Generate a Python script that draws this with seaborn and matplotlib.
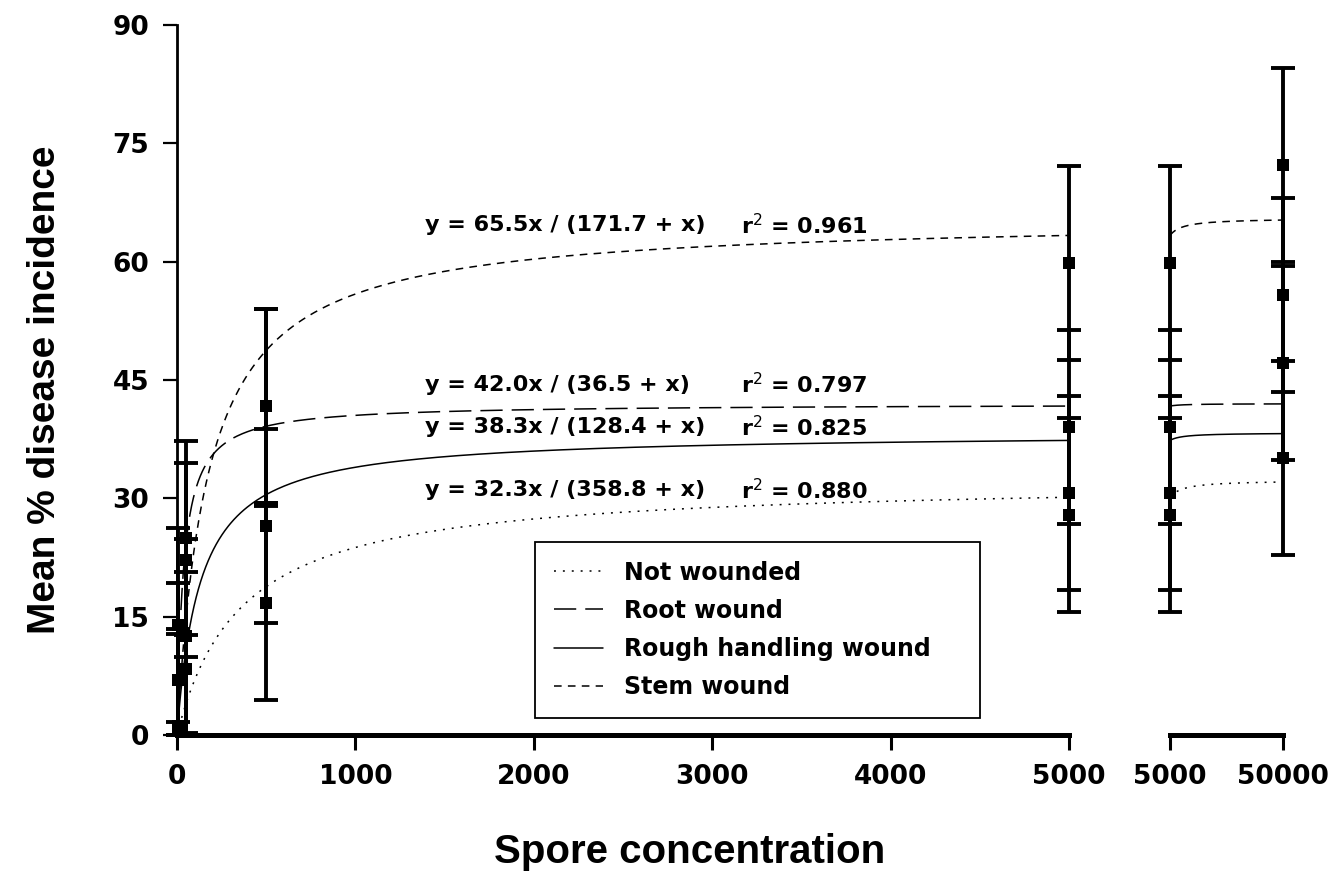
import numpy as np
import pandas as pd
import matplotlib
matplotlib.use("Agg")
import matplotlib.pyplot as plt
import seaborn as sns

# ---- data -------------------------------------------------------------
conc = [5, 50, 500, 5000, 50000]
not_wounded = [0.5, 8.4, 16.7, 27.9, 35.1]
root_wound = [13.9, 25.0, 41.7, 39.0, 55.8]
rough_wound = [1.2, 12.5, 26.5, 30.7, 47.1]
stem_wound = [7.0, 22.2, 41.7, 59.8, 72.2]
pooled_se = 12.3

treatments = ["Not wounded", "Root wound", "Rough handling wound", "Stem wound"]
series = [not_wounded, root_wound, rough_wound, stem_wound]
# fitted hyperbola y = a x / (b + x) and r^2 for each treatment
fit_a = [32.3, 42.0, 38.3, 65.5]
fit_b = [358.8, 36.5, 128.4, 171.7]
fit_r2 = ["0.880", "0.797", "0.825", "0.961"]

y_ticks = [0, 15, 30, 45, 60, 75, 90]
x_ticks_left = [0, 1000, 2000, 3000, 4000, 5000]
x_ticks_right = [5000, 50000]

# ---- style ------------------------------------------------------------
sns.set_style("ticks")
plt.rcParams["font.family"] = ["Liberation Sans", "DejaVu Sans"]
plt.rcParams["lines.scale_dashes"] = False
for key in ("text.color", "axes.labelcolor", "xtick.color", "ytick.color",
            "axes.edgecolor"):
    plt.rcParams[key] = "black"

line_styles = {
    "Not wounded": (0, (1.4, 5.0)),
    "Root wound": (0, (16, 6.5)),
    "Rough handling wound": "-",
    "Stem wound": (0, (5.5, 4.5)),
}

W, H = 1332, 896
fig = plt.figure(figsize=(W / 100, H / 100), dpi=100)
bot = (H - 735) / H
hgt = 710 / H
ax1 = fig.add_axes([177 / W, bot, 892 / W, hgt])
ax2 = fig.add_axes([1170 / W, bot, 113 / W, hgt])
ax2.set_facecolor("none")

x_left = np.unique(np.concatenate([np.linspace(0, 300, 600), np.linspace(300, 5000, 500)]))
x_right = np.linspace(5000, 50000, 600)

for name, a, b in zip(treatments, fit_a, fit_b):
    for ax, xs in ((ax1, x_left), (ax2, x_right)):
        df = pd.DataFrame({"x": xs, "y": a * xs / (b + xs)})
        sns.lineplot(data=df, x="x", y="y", ax=ax, color="black", lw=1.1,
                     linestyle=line_styles[name],
                     label=name if ax is ax1 else None, legend=False)

# points with error bars (lower bars stop at zero)
for vals in series:
    for ax, keep in ((ax1, lambda c: c <= 5000), (ax2, lambda c: c >= 5000)):
        cs = [c for c in conc if keep(c)]
        vs = [v for c, v in zip(conc, vals) if keep(c)]
        lower = [min(pooled_se, v) for v in vs]
        upper = [pooled_se for _ in vs]
        eb = ax.errorbar(cs, vs, yerr=[lower, upper], fmt="none", ecolor="black",
                         elinewidth=2.8, capsize=8.6, capthick=2.8, zorder=3)
        for art in eb.lines[1] + eb.lines[2]:
            art.set_clip_on(False)
        sns.scatterplot(x=cs, y=vs, ax=ax, marker="s", s=80, color="black",
                        edgecolor="black", linewidth=0, zorder=4, clip_on=False)

# ---- axes ---------------------------------------------------------------
tick_font = dict(family="DejaVu Sans", weight="bold", size=19)

ax1.set_xlim(0, 5000)
ax1.set_ylim(0, 90)
ax1.set_yticks(y_ticks)
ax1.set_xticks(x_ticks_left)
ax1.set_yticklabels([str(t) for t in y_ticks], fontdict=tick_font)
ax1.set_xticklabels([str(t) for t in x_ticks_left], fontdict=tick_font)
for s in ("top", "right"):
    ax1.spines[s].set_visible(False)
ax1.spines["left"].set_linewidth(2.0)
ax1.spines["bottom"].set_linewidth(3.6)
ax1.tick_params(axis="y", length=10, width=1.6, pad=10, color="black")
ax1.tick_params(axis="x", length=11, width=2.2, pad=10, color="black")

ax2.set_xlim(5000, 50000)
ax2.set_ylim(0, 90)
ax2.set_xticks(x_ticks_right)
ax2.set_xticklabels([str(t) for t in x_ticks_right], fontdict=tick_font)
ax2.set_yticks([])
for s in ("top", "right", "left"):
    ax2.spines[s].set_visible(False)
ax2.spines["bottom"].set_linewidth(3.6)
ax2.tick_params(axis="x", length=11, width=2.2, pad=10, color="black")

ax1.set_ylabel("Mean % disease incidence", fontsize=28, fontweight="bold",
               va="center", ha="center")
ax1.yaxis.set_label_coords(-0.148, 0.486)
ax1.set_xlabel("Spore concentration", fontsize=29, fontweight="bold",
               va="center", ha="center")
ax1.xaxis.set_label_coords(0.575, -0.165)
ax2.set_xlabel("")
ax2.set_ylabel("")

# fitted equations
eq_font = dict(family="DejaVu Sans", weight="bold", size=16)
eq_y = [31.0, 44.4, 39.0, 64.6]
for a, b, r2, yy in zip(fit_a, fit_b, fit_r2, eq_y):
    ax1.text(1390, yy, f"y = {a:.1f}x / ({b:.1f} + x)", fontdict=eq_font,
             va="center", ha="left")
    ax1.text(3160, yy, r"r$^{2}$ = " + r2, fontdict=eq_font,
             va="center", ha="left")

handles = [l for l in ax1.get_lines() if l.get_label() in treatments]
handles = sorted(handles, key=lambda l: treatments.index(l.get_label()))
leg = ax1.legend(handles=handles, labels=treatments, loc="lower left",
                 bbox_to_anchor=(0.401, 0.024, 0.499, 0.249), mode="expand",
                 borderaxespad=0, frameon=True, fancybox=False, framealpha=1,
                 edgecolor="black",
                 prop=dict(family="DejaVu Sans", weight="bold", size=17),
                 handlelength=2.1, handletextpad=0.9, labelspacing=0.6,
                 borderpad=0.8)
leg.get_frame().set_linewidth(1.3)

fig.savefig("out.png", dpi=100)
